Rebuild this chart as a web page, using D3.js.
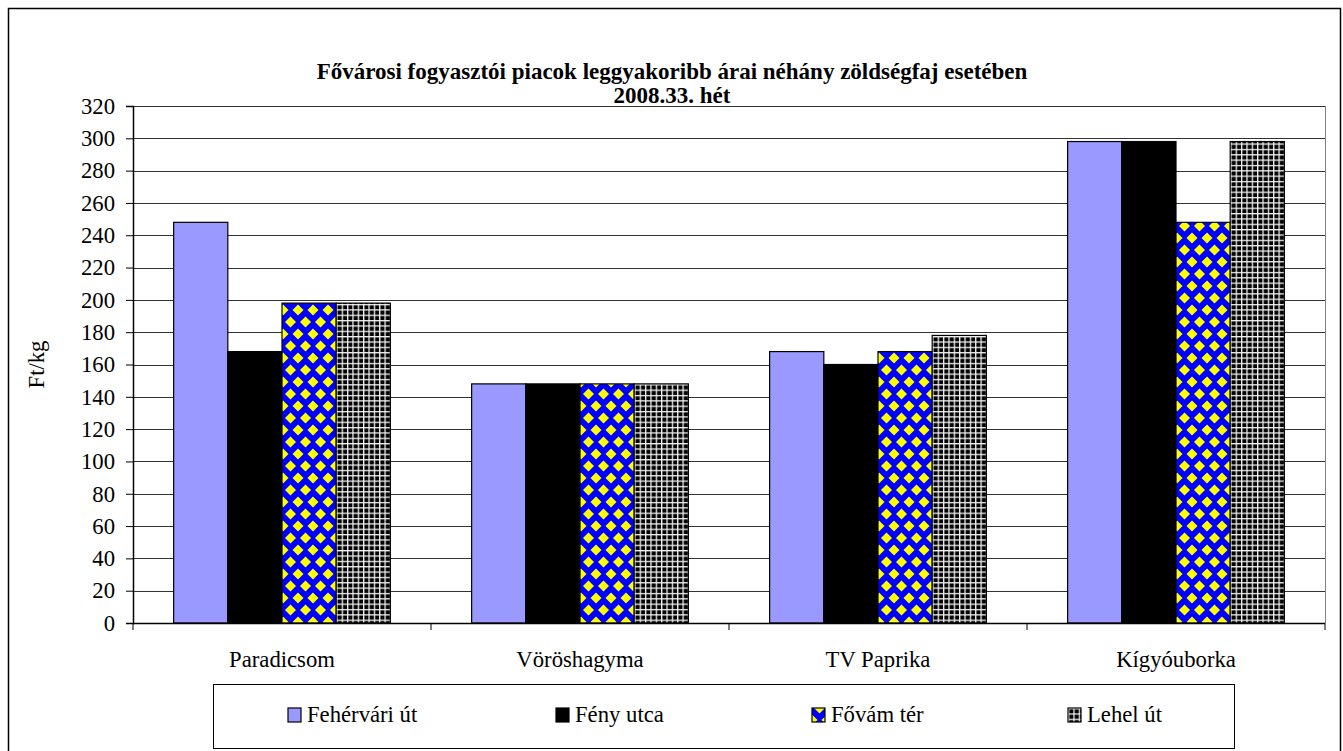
<!DOCTYPE html>
<html>
<head>
<meta charset="utf-8">
<script src="https://cdn.jsdelivr.net/npm/d3@7"></script>
<style>
  body { margin: 0; background: #fff; }
  text { font-family: "Liberation Serif", "Times New Roman", serif; fill: #000; }
</style>
</head>
<body>
<svg id="chart"></svg>
<script>
var categories = ["Paradicsom", "Vöröshagyma", "TV Paprika", "Kígyóuborka"];
var seriesNames = ["Fehérvári út", "Fény utca", "Fővám tér", "Lehel út"];
var fehervari = [248, 148, 168, 298];
var feny = [168, 148, 160, 298];
var fovam = [198, 148, 168, 248];
var lehel = [198, 148, 178, 298];
var yTicks = [0, 20, 40, 60, 80, 100, 120, 140, 160, 180, 200, 220, 240, 260, 280, 300, 320];

var seriesValues = [fehervari, feny, fovam, lehel];
var fills = ["#9999ff", "#000000", "url(#diamonds)", "url(#grid)"];
var legendX = [288, 556, 812, 1068];
var fontSize = "22.7px";

var W = 1343, H = 751;
var margin = {top: 106, right: 18, bottom: 128, left: 133},
    width = W - margin.left - margin.right,
    height = H - margin.top - margin.bottom;

var svg = d3.select("#chart").attr("width", W).attr("height", H);

// patterns
var defs = svg.append("defs");
var dia = defs.append("pattern")
    .attr("id", "diamonds")
    .attr("patternUnits", "userSpaceOnUse")
    .attr("width", 15).attr("height", 24);
dia.append("rect").attr("width", 15).attr("height", 24).attr("fill", "#0000ff");
[[7.5, 0], [0, 12], [15, 12], [7.5, 24]].forEach(function(c) {
  dia.append("path")
    .attr("d", "M" + c[0] + "," + (c[1] - 5.5) + "L" + (c[0] + 5.5) + "," + c[1] +
               "L" + c[0] + "," + (c[1] + 5.5) + "L" + (c[0] - 5.5) + "," + c[1] + "Z")
    .attr("fill", "#ffff00");
});

var grid = defs.append("pattern")
    .attr("id", "grid")
    .attr("patternUnits", "userSpaceOnUse")
    .attr("width", 5.35).attr("height", 5.35);
grid.append("rect").attr("width", 5.35).attr("height", 5.35).attr("fill", "#000");
grid.append("rect").attr("x", 0).attr("y", 0).attr("width", 1.3).attr("height", 5.35).attr("fill", "#f0f0f0");
grid.append("rect").attr("x", 0).attr("y", 0).attr("width", 5.35).attr("height", 1.3).attr("fill", "#f0f0f0");

// outer frame
svg.append("rect")
    .attr("x", 8.5).attr("y", 8.5)
    .attr("width", 1332).attr("height", 750)
    .attr("fill", "none").attr("stroke", "#000").attr("stroke-width", 1.5);

// title
svg.append("text")
    .attr("x", 672).attr("y", 79)
    .attr("text-anchor", "middle")
    .style("font-size", "23px").style("font-weight", "bold")
    .text("Fővárosi fogyasztói piacok leggyakoribb árai néhány zöldségfaj esetében");
svg.append("text")
    .attr("x", 672).attr("y", 103)
    .attr("text-anchor", "middle")
    .style("font-size", "23px").style("font-weight", "bold")
    .text("2008.33. hét");

var g = svg.append("g")
    .attr("transform", "translate(" + margin.left + "," + margin.top + ")");

var y = d3.scaleLinear().domain([0, 320]).range([height, 0]);

var x0 = d3.scaleBand().domain(categories).range([0, width]).padding(0);
var x1 = d3.scaleBand().domain(seriesNames).range([0, x0.bandwidth()])
    .paddingInner(0).paddingOuter(0.75);

// gridlines
g.selectAll(".gridline")
    .data(yTicks.filter(function(d) { return d > 0; }))
  .enter().append("line")
    .attr("x1", 0).attr("x2", width)
    .attr("y1", function(d) { return Math.round(y(d)) + 0.5; })
    .attr("y2", function(d) { return Math.round(y(d)) + 0.5; })
    .attr("stroke", "#333").attr("stroke-width", 1);

// right border of plot
g.append("line")
    .attr("x1", width + 0.5).attr("x2", width + 0.5)
    .attr("y1", 0).attr("y2", height)
    .attr("stroke", "#808080").attr("stroke-width", 1);

// bars
var groups = g.selectAll(".cat")
    .data(categories)
  .enter().append("g")
    .attr("class", "cat")
    .attr("transform", function(d) { return "translate(" + x0(d) + ",0)"; });

groups.selectAll("rect")
    .data(function(d, i) {
      return seriesNames.map(function(s, j) { return {s: s, j: j, v: seriesValues[j][i]}; });
    })
  .enter().append("rect")
    .attr("x", function(d) { return x1(d.s); })
    .attr("y", function(d) { return y(d.v); })
    .attr("width", x1.bandwidth())
    .attr("height", function(d) { return height - y(d.v); })
    .attr("fill", function(d) { return fills[d.j]; })
    .attr("stroke", "#000").attr("stroke-width", 1.2);

// y axis
var yAxis = d3.axisLeft(y).tickValues(yTicks).tickSize(7).tickPadding(11);
var ya = g.append("g").call(yAxis);
ya.select(".domain").attr("stroke", "#000").attr("stroke-width", 1.5);
ya.selectAll(".tick line").attr("stroke", "#000");
ya.selectAll(".tick text").style("font-size", fontSize);

// x axis
var xAxis = d3.axisBottom(x0).tickSize(0).tickPadding(28);
var xa = g.append("g").attr("transform", "translate(0," + height + ")").call(xAxis);
xa.select(".domain").remove();
xa.selectAll(".tick text").style("font-size", fontSize);
g.append("line")
    .attr("x1", 0).attr("x2", width)
    .attr("y1", height + 0.5).attr("y2", height + 0.5)
    .attr("stroke", "#000").attr("stroke-width", 1.5);
g.selectAll(".xtick")
    .data(categories.map(function(c) { return x0(c); }).concat([width]))
  .enter().append("line")
    .attr("x1", function(d) { return d; }).attr("x2", function(d) { return d; })
    .attr("y1", height).attr("y2", height + 7)
    .attr("stroke", "#000");

// y label
svg.append("text")
    .attr("transform", "translate(44," + (margin.top + height / 2) + ") rotate(-90)")
    .attr("text-anchor", "middle")
    .style("font-size", fontSize)
    .text("Ft/kg");

// legend
svg.append("rect")
    .attr("x", 213.5).attr("y", 684.5)
    .attr("width", 1021).attr("height", 64)
    .attr("fill", "#fff").attr("stroke", "#000").attr("stroke-width", 1);

var legend = svg.selectAll(".legend")
    .data(seriesNames)
  .enter().append("g")
    .attr("class", "legend")
    .attr("transform", function(d, i) { return "translate(" + legendX[i] + ",708)"; });

legend.append("rect")
    .attr("width", 13).attr("height", 14)
    .attr("fill", function(d, i) { return fills[i]; })
    .attr("stroke", "#000").attr("stroke-width", 1.2);

legend.append("text")
    .attr("x", 19).attr("y", 14)
    .style("font-size", fontSize)
    .text(function(d) { return d; });
</script>
</body>
</html>
